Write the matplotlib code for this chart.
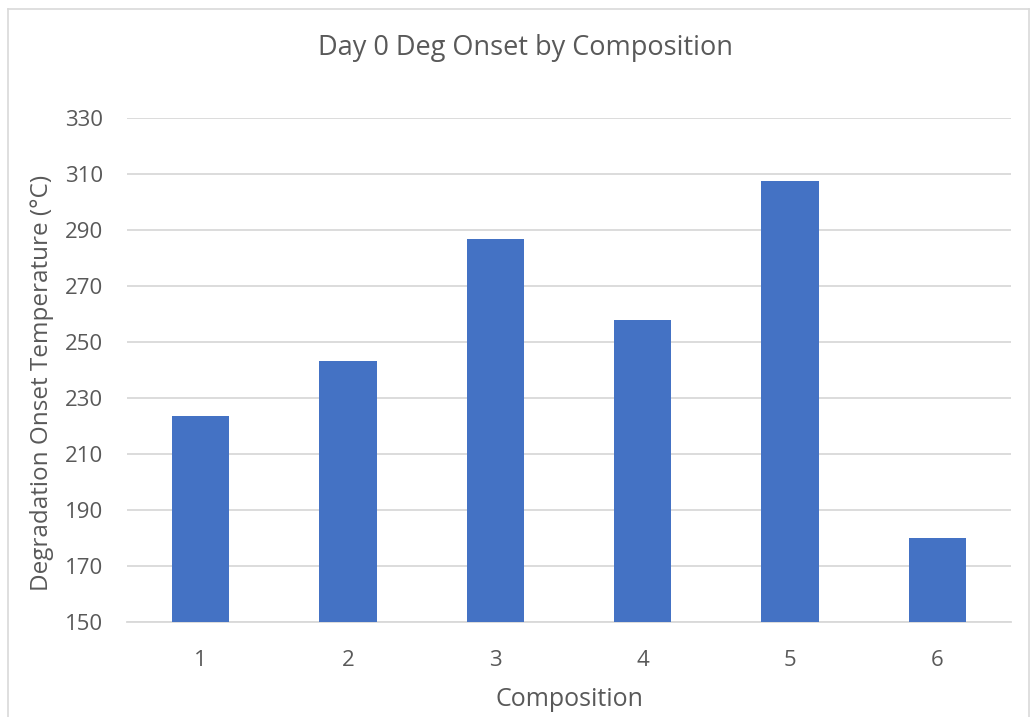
import matplotlib.pyplot as plt
from matplotlib.lines import Line2D

# values
compositions = ['1', '2', '3', '4', '5', '6']
onset_temps = [223.6, 243.2, 286.8, 257.9, 307.5, 180.0]
yticks = [150, 170, 190, 210, 230, 250, 270, 290, 310, 330]

text_col = '#595959'
grid_col = '#D9D9D9'
bar_col = '#4472C4'

plt.rcParams['font.family'] = ['Open Sans', 'DejaVu Sans']

fig = plt.figure(figsize=(10.34, 7.17), dpi=100)
ax = fig.add_axes([127 / 1034, 1 - 622 / 717, 884 / 1034, 504 / 717])

x = list(range(len(compositions)))
ax.bar(x, onset_temps, width=0.39, color=bar_col, zorder=3)

ax.set_xlim(-0.5, len(compositions) - 0.5)
ax.set_ylim(150, 330)
ax.set_yticks(yticks)
ax.set_xticks(x)
ax.set_xticklabels(compositions)
ax.grid(axis='y', color=grid_col, linewidth=1.3, zorder=0)
ax.tick_params(axis='both', length=0, labelsize=16, colors=text_col)
ax.tick_params(axis='x', pad=20)
ax.tick_params(axis='y', pad=17)
for side in ['top', 'right', 'left']:
    ax.spines[side].set_visible(False)
ax.spines['bottom'].set_color(grid_col)
ax.spines['bottom'].set_linewidth(1.3)

fig.text(525 / 1034, 1 - 48 / 717, 'Day 0 Deg Onset by Composition', fontsize=19.5,
         color=text_col, ha='center', va='center')
ax.set_xlabel('Composition', fontsize=18, color=text_col, labelpad=12)
ax.set_ylabel('Degradation Onset Temperature (°C)', fontsize=17.5, color=text_col)
ax.yaxis.set_label_coords(-0.083, 0.475)

# chart area border
for xs, ys in [([8 / 1034, 8 / 1034], [0, 1 - 9 / 717]),
               ([8 / 1034, 1029 / 1034], [1 - 9 / 717, 1 - 9 / 717]),
               ([1029 / 1034, 1029 / 1034], [0, 1 - 9 / 717])]:
    fig.add_artist(Line2D(xs, ys, color='#D9D9D9', linewidth=1.2))

fig.savefig('out.png', dpi=100)
